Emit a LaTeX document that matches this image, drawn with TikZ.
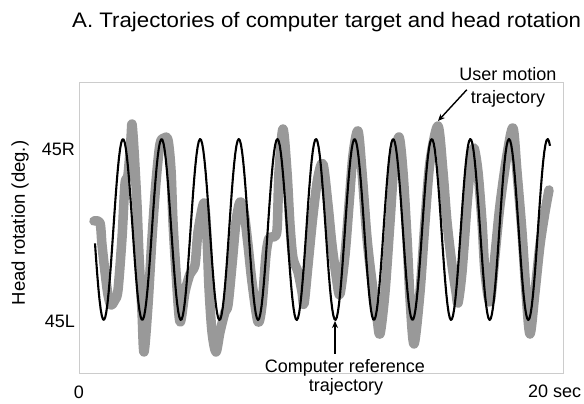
\documentclass[tikz,border=0pt]{standalone}
\usepackage{fontspec}
\setmainfont{Liberation Sans}
\newfontfamily\titlefont[FakeStretch=1.06]{Liberation Sans}
\usetikzlibrary{arrows.meta}

\begin{document}
\begin{tikzpicture}[x=1pt,y=-1pt,
  lbl/.style={inner sep=0pt, font=\fontsize{18}{20}\selectfont},
  frame/.style={draw=black!20, line width=1pt},
  refcurve/.style={line width=2.1pt, black, line join=round},
  usercurve/.style={line width=9.5pt, black!40, line join=round, line cap=round},
  pointer/.style={line width=1.4pt, black, -{Stealth[length=7pt,width=6pt]}}]

\fill[white] (0,0) rectangle (584,404);
\useasboundingbox (0,0) rectangle (584,404);

% title
\node[inner sep=0pt, anchor=base west, font=\titlefont\fontsize{21}{24}\selectfont]
  (title) at (72,27.3) {A. Trajectories of computer target and head rotation};

% plot frame
\draw[frame] (79,83) rectangle (563,373);

% measured head rotation (user)
\draw[usercurve] plot[smooth, tension=0.5] coordinates {
(94,221) (100,223) (102,245) (105,272) (108,295) (111,305) (115,300) (118,290)
(122,238) (125,184) (128,175) (131,138) (132,124) (134,150) (137,205) (139,255)
(142,312) (144,352) (148,305) (152,238) (156,182) (160,144) (164,138) (168,140)
(171,170) (173,222) (176,272) (180,322) (185,292) (190,274) (195,265) (198,232)
(204,203) (207,238) (209,288) (212,332) (216,352) (220,332) (225,312) (228,305)
(232,265) (236,222) (240,202) (244,212) (248,245) (252,282) (258,322) (262,305)
(266,255) (269,238) (273,237) (277,230) (279,172) (283,129) (287,172) (290,225)
(293,258) (298,272) (302,292) (304,304) (308,265) (313,215) (318,177) (323,164)
(328,205) (332,245) (337,282) (340,294) (345,255) (349,205) (353,155) (358,131)
(362,172) (367,238) (372,282) (377,318) (380,334) (385,292) (390,222) (394,165)
(399,137) (403,172) (407,238) (410,298) (414,344) (420,292) (425,222) (430,162)
(438,126) (443,172) (447,222) (452,265) (456,292) (458,303) (462,272) (467,205)
(471,162) (474,148) (478,172) (482,222) (485,272) (490,302) (495,255) (500,205)
(507,155) (513,128) (517,172) (522,232) (526,292) (530,334) (535,292) (540,245)
(545,212) (549,190)};

% computer reference (sinusoid, period 38.6)
\draw[refcurve] plot[domain=95:550, samples=400]
  (\x, {229.5 - 90.5*cos(9.32642*(\x-123))});

% axis labels
\node[lbl, anchor=base east] (r45) at (75,155) {45R};
\node[lbl, anchor=base east] (l45) at (75,327) {45L};
\node[lbl, anchor=base] (t0) at (79,398) {0};
\node[lbl, anchor=base west] (t20) at (528,397) {20 sec};
\node[inner sep=0pt, rotate=90, font=\fontsize{18.5}{20}\selectfont] (ylab) at (20,223)
  {Head rotation (deg.)};

% annotations
\node[lbl, anchor=base] (um1) at (508,80.7) {User motion};
\node[lbl, anchor=base] (um2) at (508,103) {trajectory};
\coordinate (utip) at (438,121);
\draw[pointer] ([xshift=-4pt]um2.north west) -- (utip);

\node[lbl, anchor=base] (cr1) at (345,372) {Computer reference};
\node[lbl, anchor=base] (cr2) at (346,391) {trajectory};
\coordinate (ctip) at (335,321);
\draw[pointer] ([yshift=5pt]ctip |- cr1.north) -- (ctip);
\end{tikzpicture}
\end{document}
